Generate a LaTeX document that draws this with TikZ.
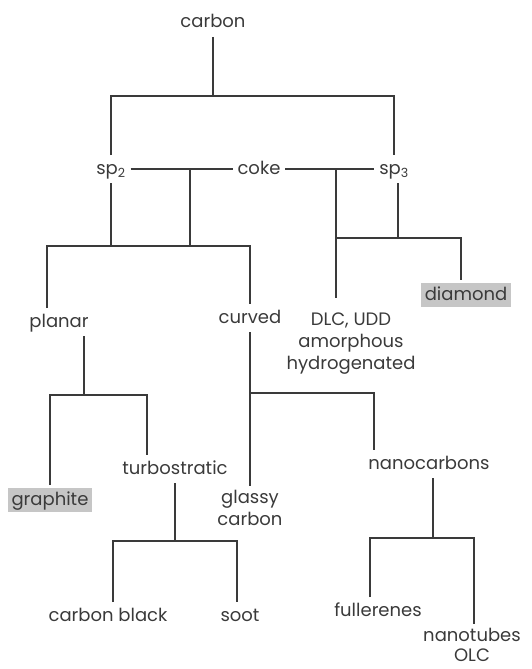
\documentclass[tikz,border=0pt]{standalone}
\usepackage{fontspec}
\setmainfont{Poppins}
\usepackage{tikz}
\usetikzlibrary{positioning}

\definecolor{inkgray}{HTML}{3A3A3A}
\definecolor{hlgray}{HTML}{C6C6C6}

\begin{document}
\begin{tikzpicture}[
    x=1pt, y=-1pt,
    every node/.style={font=\fontsize{18}{22}\selectfont, text=inkgray},
    lbl/.style={anchor=base, inner sep=0pt, outer sep=5pt, text height=14pt, text depth=4pt},
    hl/.style={lbl, fill=hlgray, inner xsep=4pt, inner ysep=3pt, outer sep=3pt},
    multi/.style={anchor=north, align=center, inner sep=0pt, outer sep=4pt},
    tree/.style={draw=inkgray, line width=1.6pt}
]
\useasboundingbox (0,0) rectangle (532,669);

\node[lbl] (carbon) at (213,28) {carbon};
\node[lbl] (sp2) at (111,174) {sp\textsubscript{2}};
\node[lbl] (coke) at (259,174) {coke};
\node[lbl] (sp3) at (394,174) {sp\textsubscript{3}};
\node[lbl] (planar) at (59,327) {planar};
\node[lbl] (curved) at (250,323) {curved};
\node[multi, outer sep=15pt] (dlc) at (351,298) {DLC, UDD\\amorphous\\hydrogenated};
\node[hl] (diamond) at (466,300) {diamond};
\node[hl] (graphite) at (50,505) {graphite};
\node[lbl] (turbo) at (175,474) {turbostratic};
\node[multi] (glassy) at (250,486) {glassy\\carbon};
\node[lbl] (nano) at (429,469) {nanocarbons};
\node[lbl] (cblack) at (108,621) {carbon black};
\node[lbl] (soot) at (240,621) {soot};
\node[lbl] (fuller) at (378,616) {fullerenes};
\node[multi, font=\fontsize{18}{20}\selectfont] (ntubes) at (472,624) {nanotubes\\OLC};

\coordinate (j0) at (213,96);
\coordinate (k1) at (190,169);
\coordinate (k2) at (336,169);
\coordinate (b2) at (190,246);
\coordinate (b3) at (398,238);
\coordinate (b4) at (84,395);
\coordinate (b5) at (250,393);
\coordinate (b6) at (175,541);
\coordinate (b7) at (433,538);

\draw[tree] (carbon) -- (j0);
\draw[tree] (sp2) |- (j0) -| (sp3);
\draw[tree] (sp2) -- (coke);
\draw[tree] (coke) -- (sp3);
\draw[tree] (k1) -- (b2);
\draw[tree] (sp2) -- (sp2 |- b2);
\draw[tree] ([xshift=-12pt]planar.north) |- (b2) -| (curved);
\draw[tree] (k2) -- ([xshift=-15pt]dlc.north);
\draw[tree] (sp3.south -| b3) -- (b3);
\draw[tree] (b3 -| k2) -| ([xshift=-5pt]diamond.north);
\draw[tree] ([xshift=25pt]planar.south) -- (b4);
\draw[tree] (graphite) |- (b4) -| ([xshift=-28pt]turbo.north);
\draw[tree] (curved) -- (glassy);
\draw[tree] (b5) -| ([xshift=-55pt]nano.north);
\draw[tree] (turbo) -- (b6);
\draw[tree] ([xshift=5pt]cblack.north) |- (b6) -| ([xshift=-3pt]soot.north);
\draw[tree] ([xshift=4pt]nano.south) -- (b7);
\draw[tree] ([xshift=-8pt]fuller.north) |- (b7) -| ([xshift=2pt]ntubes.north);
\end{tikzpicture}
\end{document}
